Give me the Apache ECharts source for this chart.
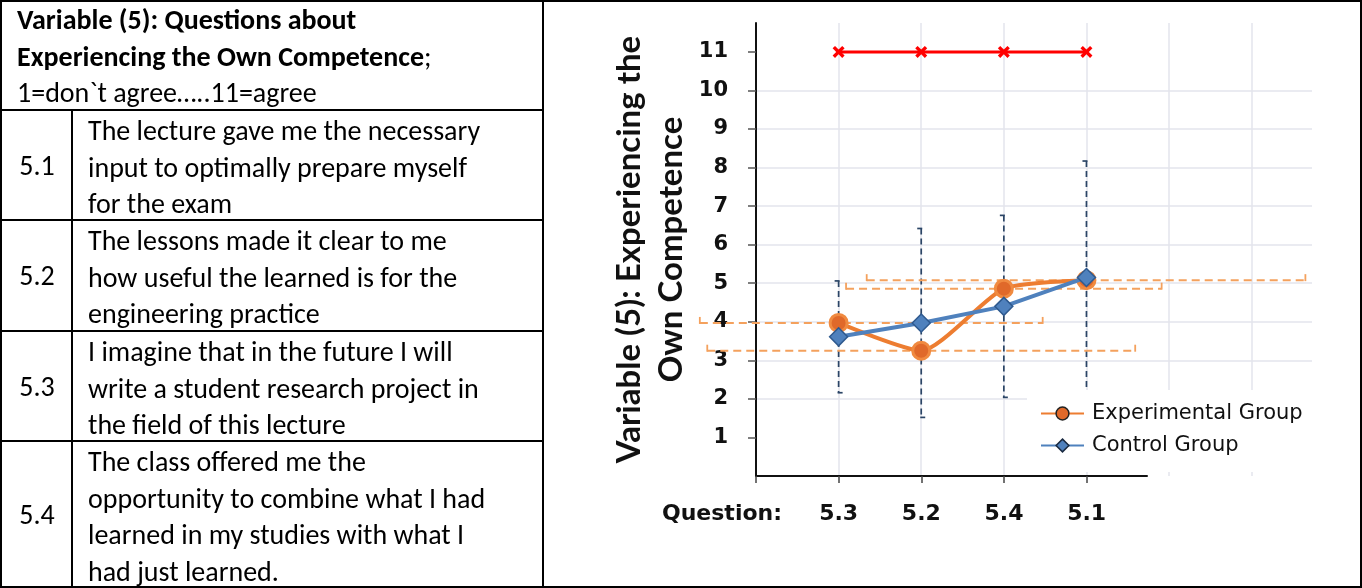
<!DOCTYPE html>
<html><head><meta charset="utf-8">
<script src="https://cdn.jsdelivr.net/npm/echarts@6/dist/echarts.min.js"></script>
<style>
html,body{margin:0;padding:0;width:1362px;height:588px;overflow:hidden;background:#fff;}
body{font-family:Carlito, Lato, "Open Sans", sans-serif;color:#000;}
#chart{position:absolute;left:0;top:0;width:1362px;height:588px;}
.ln{position:absolute;background:#000;}
.txt{position:absolute;font-size:28px;line-height:36.7px;white-space:nowrap;}
.num{position:absolute;left:2px;width:70px;font-size:28px;display:flex;align-items:center;justify-content:center;}
</style></head><body>
<div id="chart"></div>
<div id="table"></div>
<script>
// ---------- data ----------
const headerLines = ["Variable (5): Questions about", "Experiencing the Own Competence;", "1=don`t agree\u2026..11=agree"];
const questionIds = ["5.1", "5.2", "5.3", "5.4"];
const questionLines = [
  ["The lecture gave me the necessary", "input to optimally prepare myself", "for the exam"],
  ["The lessons made it clear to me", "how useful the learned is for the", "engineering practice"],
  ["I imagine that in the future I will", "write a student research project in", "the field of this lecture"],
  ["The class offered me the", "opportunity to combine what I had", "learned in my studies with what I", "had just learned."]
];
const categories = ["5.3", "5.2", "5.4", "5.1"];
const expValues = [3.97, 3.25, 4.86, 5.08];
const ctrlValues = [3.61, 3.97, 4.4, 5.15];
const maxValues = [11, 11, 11, 11];
const ctrlErr = [1.45, 2.45, 2.36, 3.02];
const expErrLow = [1.68, 2.59, 1.91, 2.66];
const expErrHigh = [2.47, 2.59, 1.91, 2.65];
const yTickLabels = [1, 2, 3, 4, 5, 6, 7, 8, 9, 10, 11];

// ---------- table (HTML) ----------
const T = document.getElementById('table');
function add(html){ T.insertAdjacentHTML('beforeend', html); }
add('<div class="ln" style="left:0;top:0;width:1362px;height:2px"></div>');
add('<div class="ln" style="left:0;top:586px;width:1362px;height:2px"></div>');
add('<div class="ln" style="left:0;top:0;width:2px;height:588px"></div>');
add('<div class="ln" style="left:1360px;top:0;width:2px;height:588px"></div>');
add('<div class="ln" style="left:542px;top:0;width:2px;height:588px"></div>');
const rowTops = [109, 219, 330, 440, 587];
rowTops.slice(0,4).forEach(t => add('<div class="ln" style="left:0;top:'+t+'px;width:543px;height:2px"></div>'));
add('<div class="ln" style="left:71px;top:110px;width:2px;height:478px"></div>');
add('<div class="txt" style="left:17px;top:2px">' +
  '<b>' + headerLines[0] + '</b><br><b>' + headerLines[1].replace(';','</b>;') + '<br>' + headerLines[2] + '</div>');
questionIds.forEach((id, i) => {
  const top = rowTops[i] + 2, h = rowTops[i+1] - rowTops[i] - 2;
  add('<div class="num" style="top:' + top + 'px;height:' + h + 'px">' + id + '</div>');
  add('<div class="txt" style="left:88px;top:' + (top + 2) + 'px">' + questionLines[i].join('<br>') + '</div>');
});

// ---------- chart ----------
const chart = echarts.init(document.getElementById('chart'));
const FONT = '"DejaVu Sans", sans-serif';
const TFONT = 'Lato, sans-serif';
const gridColor = '#e3e5ec';
const xs = categories.map((c, i) => i + 1);

function vErr(params, api) {
  const x = api.value(0), y = api.value(1), e = api.value(2);
  const t = api.coord([x, y + e]), b = api.coord([x, y - e]);
  const st = {stroke: '#2b4566', lineWidth: 1.7, lineDash: [6, 4]};
  const cs = {stroke: '#2b4566', lineWidth: 1.7};
  return {type: 'group', children: [
    {type: 'line', shape: {x1: t[0], y1: t[1], x2: b[0], y2: b[1]}, style: st},
    {type: 'line', shape: {x1: t[0] - 4, y1: t[1], x2: t[0] + 1, y2: t[1]}, style: cs},
    {type: 'line', shape: {x1: b[0] - 1, y1: b[1], x2: b[0] + 4, y2: b[1]}, style: cs}
  ]};
}
function hErr(params, api) {
  const x = api.value(0), y = api.value(1), lo = api.value(2), hi = api.value(3);
  const l = api.coord([x - lo, y]), r = api.coord([x + hi, y]);
  const st = {stroke: '#f4a15d', lineWidth: 2, lineDash: [8, 5]};
  const cs = {stroke: '#f4a15d', lineWidth: 1.8};
  return {type: 'group', children: [
    {type: 'line', shape: {x1: l[0], y1: l[1], x2: r[0], y2: r[1]}, style: st},
    {type: 'line', shape: {x1: l[0], y1: l[1] - 6, x2: l[0], y2: l[1] + 1}, style: cs},
    {type: 'line', shape: {x1: r[0], y1: r[1] - 6, x2: r[0], y2: r[1] + 1}, style: cs}
  ]};
}
const xMark = 'path://M2,0L5,3L8,0L10,2L7,5L10,8L8,10L5,7L2,10L0,8L3,5L0,2Z';

chart.setOption({
  animation: false,
  textStyle: {fontFamily: FONT},
  grid: [
    {left: 756, right: 50, top: 23, bottom: 112},
    {left: 756, width: 391, top: 23, bottom: 112}
  ],
  xAxis: [
    {type: 'value', gridIndex: 0, min: 0, max: 6.73, interval: 1,
     axisLine: {show: false}, axisTick: {show: false}, axisLabel: {show: false},
     splitLine: {show: true, showMinLine: false, showMaxLine: false, lineStyle: {color: gridColor, width: 1.5}}},
    {type: 'value', gridIndex: 1, min: 0, max: 4.73, interval: 1,
     axisLine: {show: true, lineStyle: {color: '#111', width: 2}},
     axisTick: {show: true, length: 7, lineStyle: {color: '#444', width: 1.5}, customValues: [0].concat(xs)},
     axisLabel: {show: true, margin: 27, color: '#111', fontSize: 22, fontWeight: 'bold', fontFamily: FONT,
       customValues: [0].concat(xs),
       formatter: v => v === 0 ? '{q|Question:}' : categories[Math.round(v) - 1],
       rich: {q: {fontSize: 22, fontWeight: 'bold', fontFamily: FONT, color: '#111', padding: [0, 68, 0, 0]}}},
     splitLine: {show: false}}
  ],
  yAxis: [
    {type: 'value', gridIndex: 0, min: 0, max: 11.75, interval: 1,
     name: 'Variable (5): Experiencing the\nOwn Competence', nameLocation: 'middle', nameGap: 64,
     nameTextStyle: {fontSize: 33, fontWeight: 'bold', color: '#111', fontFamily: TFONT, lineHeight: 42},
     axisLine: {show: true, lineStyle: {color: '#111', width: 2}},
     axisTick: {show: true, length: 8, lineStyle: {color: '#555', width: 1.5}, customValues: yTickLabels},
     axisLabel: {margin: 28, color: '#111', fontSize: 21, fontWeight: 'bold', fontFamily: FONT, customValues: yTickLabels},
     splitLine: {show: true, showMinLine: false, showMaxLine: false, lineStyle: {color: gridColor, width: 1.5}}},
    {type: 'value', gridIndex: 1, min: 0, max: 11.75, show: false}
  ],
  legend: {
    orient: 'vertical', left: 1027, top: 390, z: 10,
    backgroundColor: '#fff', padding: [13, 12, 16, 13], itemGap: 11,
    itemWidth: 43, itemHeight: 16,
    textStyle: {fontSize: 21, color: '#111', fontFamily: FONT, padding: [0, 0, 0, 3]},
    data: [
      {name: 'Experimental Group', itemStyle: {borderColor: '#222', borderWidth: 1.5}},
      {name: 'Control Group', itemStyle: {borderColor: '#1a2a40', borderWidth: 1.5}}
    ]
  },
  series: [
    {type: 'custom', name: 'ctrlErr', xAxisIndex: 0, yAxisIndex: 0, z: 1, clip: false,
     renderItem: vErr, data: xs.map((x, i) => [x, ctrlValues[i], ctrlErr[i]])},
    {type: 'custom', name: 'expErr', xAxisIndex: 0, yAxisIndex: 0, z: 1, clip: false,
     renderItem: hErr, data: xs.map((x, i) => [x, expValues[i], expErrLow[i], expErrHigh[i]])},
    {type: 'line', name: 'Max', xAxisIndex: 0, yAxisIndex: 0, z: 3,
     data: xs.map((x, i) => [x, maxValues[i]]),
     lineStyle: {color: '#ff0000', width: 3}, itemStyle: {color: '#ff0000'},
     symbol: xMark, symbolSize: 12},
    {type: 'line', name: 'Experimental Group', xAxisIndex: 0, yAxisIndex: 0, z: 4, smooth: 0.2,
     data: xs.map((x, i) => [x, expValues[i]]),
     lineStyle: {color: '#ed7d31', width: 4},
     itemStyle: {color: '#e0692a', borderColor: '#f08a40', borderWidth: 3},
     symbol: 'circle', symbolSize: 17},
    {type: 'line', name: 'Control Group', xAxisIndex: 0, yAxisIndex: 0, z: 5,
     data: xs.map((x, i) => [x, ctrlValues[i]]),
     lineStyle: {color: '#4f81bd', width: 4},
     itemStyle: {color: '#4f81bd', borderColor: '#2f5a8f', borderWidth: 1.5},
     symbol: 'diamond', symbolSize: 18}
  ]
});
</script>
</body></html>
